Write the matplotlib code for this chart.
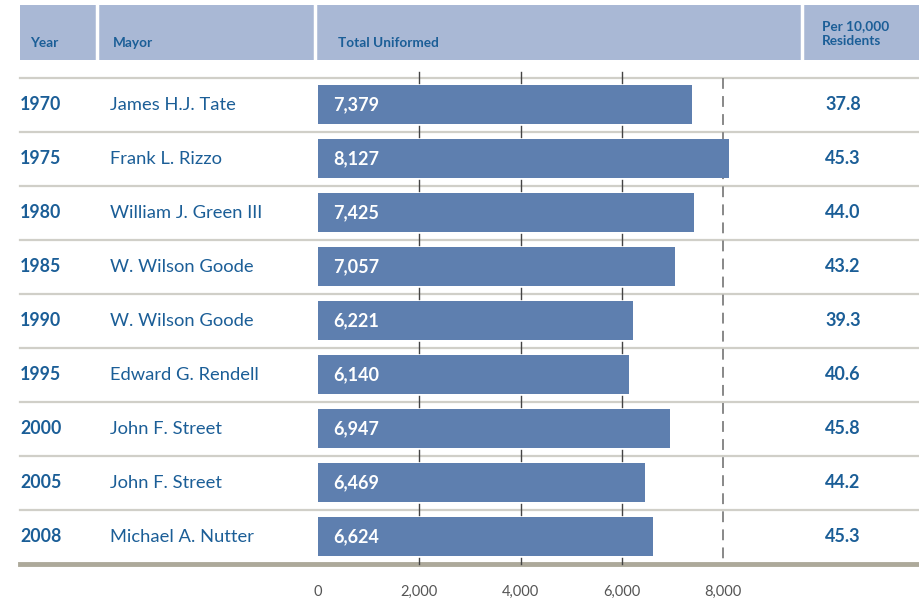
import matplotlib.pyplot as plt

years = ["1970", "1975", "1980", "1985", "1990", "1995", "2000", "2005", "2008"]
mayors = ["James H.J. Tate", "Frank L. Rizzo", "William J. Green III",
          "W. Wilson Goode", "W. Wilson Goode", "Edward G. Rendell",
          "John F. Street", "John F. Street", "Michael A. Nutter"]
uniformed = [7379, 8127, 7425, 7057, 6221, 6140, 6947, 6469, 6624]
per_10k = [37.8, 45.3, 44.0, 43.2, 39.3, 40.6, 45.8, 44.2, 45.3]
ticks = [0, 2000, 4000, 6000, 8000]

plt.rcParams['font.family'] = ['Lato', 'DejaVu Sans']
blue_text = "#1B5E97"
bar_col = "#5E7FAF"
head_col = "#A9B8D5"

W, H = 920, 605
fig = plt.figure(figsize=(W / 100, H / 100), dpi=100)
ax = fig.add_axes([0, 0, 1, 1])
ax.axis("off")

# x in data units (bar value), y in row units
k = 8000 / 405.0
x0 = 318
px = lambda p: (p - x0) * k          # pixel -> value
top, pitch = 104.5, 54.0
py = lambda p: (p - top) / pitch     # pixel -> row
ax.set_xlim(px(0), px(W))
ax.set_ylim(py(H), py(0))

n = len(years)
rows = list(range(n))

# header band
ax.fill_between([px(20), px(W)], py(5), py(60), color=head_col, lw=0)
for sx in [97, 315, 802]:
    ax.plot([px(sx), px(sx)], [py(5), py(60)], color="white", lw=2.5)
hy = py(43)
ax.text(px(30), hy, "Year", color=blue_text, fontsize=9.8, fontweight="bold", va="center")
ax.text(px(113), hy, "Mayor", color=blue_text, fontsize=9.8, fontweight="bold", va="center")
ax.text(px(338), hy, "Total Uniformed", color=blue_text, fontsize=9.8, fontweight="bold", va="center")
ax.text(px(822), py(33.5), "Per 10,000\nResidents", color=blue_text, fontsize=9.8,
        fontweight="bold", va="center", linespacing=1.3)

# row separators
for i in range(n):
    ax.plot([px(20), px(W)], [i - 0.5, i - 0.5], color="#D0CFC8", lw=1.6, zorder=1)
ax.plot([px(20), px(W)], [n - 0.5, n - 0.5], color="#ADA99A", lw=3.5, zorder=1)

# tick marks at row lines
tl = 0.11
for t in ticks[1:4]:
    for i in range(n + 1):
        y = i - 0.5
        lo = y - tl
        hi = y + tl if i < n else y
        ax.plot([t, t], [lo, hi], color="#444444", lw=1.0, zorder=1)
ax.plot([8000, 8000], [-0.5, n - 0.5], color="#7F7F7F", lw=1.3,
        dashes=(6, 4), zorder=1)

# bars
ax.barh(rows, uniformed, height=0.72, left=0, color=bar_col, zorder=2)

for i in rows:
    ax.text(px(20), i, years[i], color=blue_text, fontsize=12.8, fontweight="bold", va="center")
    ax.text(px(110), i, mayors[i], color=blue_text, fontsize=13.2, va="center")
    ax.text(px(333), i, f"{uniformed[i]:,}", color="white", fontsize=13,
            fontweight="bold", va="center", zorder=3)
    ax.text(px(843), i, f"{per_10k[i]:.1f}", color=blue_text, fontsize=13,
            fontweight="bold", va="center", ha="center")

for t in ticks:
    ax.text(t, py(592), f"{t:,}", color="#555555", fontsize=10.5, ha="center", va="center")

fig.savefig("out.png", dpi=100)
